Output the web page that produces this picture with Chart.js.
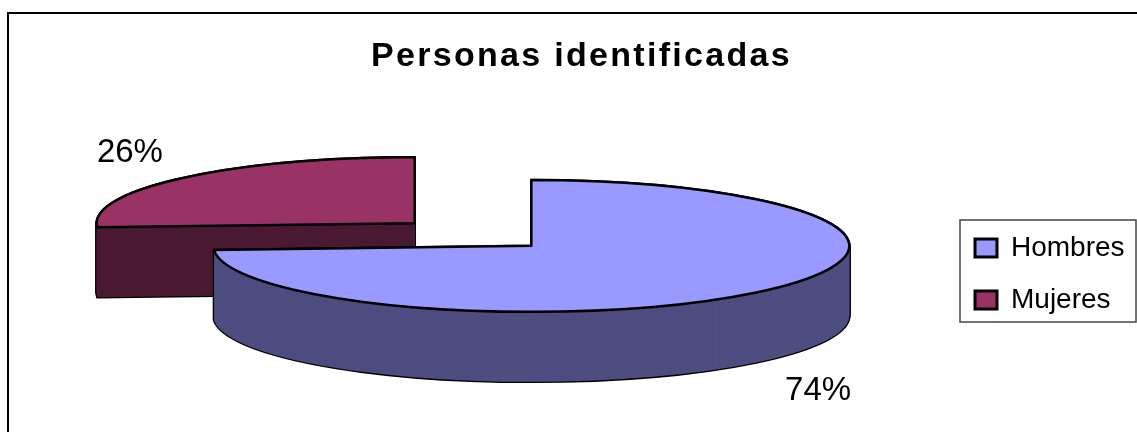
<!DOCTYPE html>
<html>
<head>
<meta charset="utf-8">
<title>Personas identificadas</title>
<script src="https://cdn.jsdelivr.net/npm/chart.js@4/dist/chart.umd.min.js"></script>
<style>
  html, body { margin: 0; padding: 0; background: #fff; overflow: hidden; }
  canvas { display: block; }
</style>
</head>
<body>
<canvas id="chart" width="1137" height="432"></canvas>
<script>
var categories = ["Hombres", "Mujeres"];
var values = [74, 26];
var faceColors = ["#9999ff", "#993366"];
var sideColors = ["#4d4d80", "#4a1a32"];

// fake 3D pie: the arcs come from the library, this only squashes and extrudes them
var pieCenterX = 473;
var pieCenterY = 234.5;
var pieRadius = 318;
var squash = 0.2075;
var depth = 70;
var explode = 80;

function placeArc(ctx, arc, drop) {
    var mid = (arc.startAngle + arc.endAngle) / 2;
    ctx.translate(pieCenterX + Math.cos(mid) * explode, pieCenterY + Math.sin(mid) * explode * squash + drop);
    ctx.scale(1, squash);
    ctx.translate(-arc.x, -arc.y);
}

function sectorPath(ctx, arc, drop) {
    ctx.save();
    placeArc(ctx, arc, drop);
    ctx.beginPath();
    ctx.moveTo(arc.x, arc.y);
    ctx.arc(arc.x, arc.y, arc.outerRadius, arc.startAngle, arc.endAngle);
    ctx.closePath();
    ctx.restore();
}

function drawSlice(ctx, arc, index) {
    var d;
    ctx.lineJoin = "round";
    ctx.strokeStyle = "#000";
    ctx.lineWidth = 2.5;
    for (d = depth; d >= 0; d--) {
        sectorPath(ctx, arc, d);
        ctx.stroke();
    }
    ctx.fillStyle = sideColors[index];
    for (d = depth; d >= 0; d--) {
        sectorPath(ctx, arc, d);
        ctx.fill();
    }
    ctx.save();
    placeArc(ctx, arc, 0);
    arc.draw(ctx);
    ctx.restore();
    sectorPath(ctx, arc, 0);
    ctx.stroke();
}

function drawPercent(ctx, arc, index) {
    var mid = (arc.startAngle + arc.endAngle) / 2;
    var total = values.reduce(function (a, b) { return a + b; }, 0);
    var x = pieCenterX + 1 + Math.cos(mid) * (explode + pieRadius + 74);
    var y = pieCenterY + Math.sin(mid) * (explode + pieRadius) * squash + Math.sin(mid) * 36.5;
    if (Math.sin(mid) > 0) {
        y += depth + 5;
    }
    ctx.fillStyle = "#000";
    ctx.font = "33px 'Liberation Sans'";
    ctx.textAlign = "center";
    ctx.textBaseline = "middle";
    ctx.fillText(Math.round(values[index] / total * 100) + "%", x, y);
}

var pie3d = {
    id: "pie3d",
    afterLayout: function (chart) {
        var legend = chart.legend;
        legend.left = 951;
        legend.right = 1136;
        legend.top = 210;
        legend.bottom = 400;
        legend.adjustHitBoxes();

        var title = chart.titleBlock;
        if (!title.spaced) {
            var drawTitle = title.draw;
            title.spaced = true;
            title.draw = function () {
                chart.ctx.letterSpacing = "2.3px";
                drawTitle.apply(title, arguments);
                chart.ctx.letterSpacing = "0px";
            };
        }
    },
    beforeDraw: function (chart) {
        var ctx = chart.ctx;
        ctx.save();
        ctx.strokeStyle = "#000";
        ctx.lineWidth = 2;
        ctx.strokeRect(8, 13, 1300, 600);
        ctx.strokeStyle = "#444";
        ctx.lineWidth = 1.5;
        ctx.strokeRect(960, 220, 176, 102);
        ctx.restore();
    },
    beforeDatasetsDraw: function (chart) {
        var ctx = chart.ctx;
        var arcs = chart.getDatasetMeta(0).data;
        ctx.save();
        // back slice first so the big one sits on top of it
        drawSlice(ctx, arcs[1], 1);
        drawSlice(ctx, arcs[0], 0);
        arcs.forEach(function (arc, i) {
            drawPercent(ctx, arc, i);
        });
        ctx.restore();
        return false;
    }
};

new Chart(document.getElementById("chart"), {
    type: "pie",
    data: {
        labels: categories,
        datasets: [{
            data: values,
            backgroundColor: faceColors,
            borderWidth: 0
        }]
    },
    options: {
        responsive: false,
        animation: false,
        radius: pieRadius,
        layout: { padding: { left: 26 } },
        plugins: {
            title: {
                display: true,
                text: "Personas identificadas",
                color: "#000",
                font: { family: "'Liberation Sans'", size: 34, weight: "bold" },
                padding: { top: 36, bottom: 10 }
            },
            legend: {
                position: "right",
                align: "start",
                labels: {
                    color: "#000",
                    boxWidth: 22,
                    boxHeight: 18,
                    padding: 24,
                    font: { family: "'Liberation Sans'", size: 28 },
                    generateLabels: function (chart) {
                        return categories.map(function (name, i) {
                            return { text: name, fillStyle: faceColors[i], strokeStyle: "#000", lineWidth: 3, index: i };
                        });
                    }
                }
            },
            tooltip: { enabled: false }
        }
    },
    plugins: [pie3d]
});
</script>
</body>
</html>
